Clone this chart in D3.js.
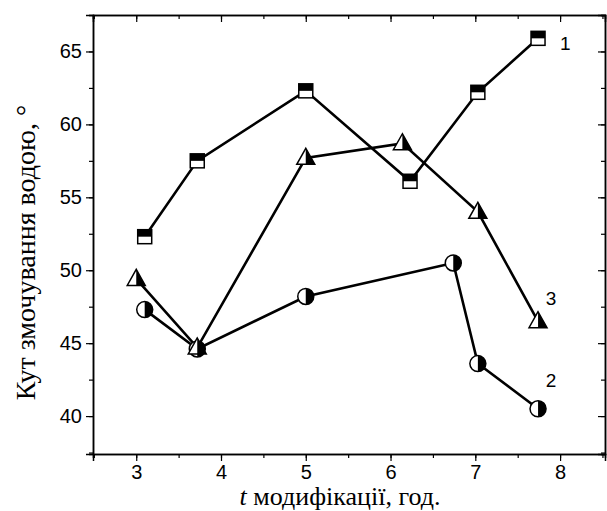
<!DOCTYPE html>
<html>
<head>
<meta charset="utf-8">
<script src="https://cdn.jsdelivr.net/npm/d3@7"></script>
<style>
  body { margin: 0; background: #fff; }
  text { fill: #000; }
</style>
</head>
<body>
<div id="chart"></div>
<script>
// data
var xTicks = [3, 4, 5, 6, 7, 8];
var yTicks = [40, 45, 50, 55, 60, 65];

var s1x = [3.1, 3.72, 5.0, 6.23, 7.03, 7.74];
var s1y = [52.3, 57.5, 62.3, 56.1, 62.2, 65.9];

var s2x = [3.1, 3.72, 5.0, 6.74, 7.03, 7.74];
var s2y = [47.3, 44.6, 48.2, 50.5, 43.6, 40.5];

var s3x = [3.0, 3.72, 5.0, 6.14, 7.03, 7.74];
var s3y = [49.4, 44.7, 57.7, 58.7, 54.0, 46.5];

var seriesNames = ["1", "2", "3"];

var margin = {top: 15, right: 2, bottom: 57, left: 93};
var W = 607, H = 511;
var width = W - margin.left - margin.right;
var height = H - margin.top - margin.bottom;

var svg = d3.select("#chart").append("svg")
    .attr("width", W)
    .attr("height", H)
    .append("g")
    .attr("transform", "translate(" + margin.left + "," + margin.top + ")");

var x = d3.scaleLinear().domain([2.49, 8.53]).range([0, width]);
var y = d3.scaleLinear().domain([37.4, 67.5]).range([height, 0]);

var xMinor = d3.range(2.5, 8.51, 0.5);
var yMinor = d3.range(37.5, 67.51, 2.5);

// axes: outward on bottom/left, inward on top/right
svg.append("g")
    .attr("transform", "translate(0," + height + ")")
    .call(d3.axisBottom(x).tickValues(xMinor).tickSize(4).tickFormat(""));
svg.append("g")
    .attr("transform", "translate(0," + height + ")")
    .call(d3.axisBottom(x).tickValues(xTicks).tickSize(7).tickPadding(4).tickFormat(d3.format("d")));
svg.append("g")
    .call(d3.axisTop(x).tickValues(xMinor).tickSize(-4).tickFormat(""));
svg.append("g")
    .call(d3.axisTop(x).tickValues(xTicks).tickSize(-7).tickFormat(""));

svg.append("g")
    .call(d3.axisLeft(y).tickValues(yMinor).tickSize(4).tickFormat(""));
svg.append("g")
    .call(d3.axisLeft(y).tickValues(yTicks).tickSize(7).tickPadding(4).tickFormat(d3.format("d")));
svg.append("g")
    .attr("transform", "translate(" + width + ",0)")
    .call(d3.axisRight(y).tickValues(yMinor).tickSize(-4).tickFormat(""));
svg.append("g")
    .attr("transform", "translate(" + width + ",0)")
    .call(d3.axisRight(y).tickValues(yTicks).tickSize(-7).tickFormat(""));

svg.selectAll(".domain").attr("stroke", "#000").attr("stroke-width", 1.5);
svg.selectAll(".tick line").attr("stroke", "#000").attr("stroke-width", 1.2);
svg.selectAll(".tick text")
    .style("font-family", "'Liberation Sans', Arial, sans-serif")
    .style("font-size", "20px");

// lines
var line = d3.line()
    .x(function (d) { return x(d[0]); })
    .y(function (d) { return y(d[1]); });

function pts(xs, ys) {
    return xs.map(function (v, i) { return [v, ys[i]]; });
}

var data1 = pts(s1x, s1y);
var data2 = pts(s2x, s2y);
var data3 = pts(s3x, s3y);

[data1, data2, data3].forEach(function (d) {
    svg.append("path")
        .datum(d)
        .attr("fill", "none")
        .attr("stroke", "#000")
        .attr("stroke-width", 2.6)
        .attr("d", line);
});

// markers: circles (left white, right black)
var r = 8;
var circ = svg.selectAll("g.circ").data(data2).enter().append("g")
    .attr("class", "circ")
    .attr("transform", function (d) { return "translate(" + x(d[0]) + "," + y(d[1]) + ")"; });
circ.append("circle").attr("r", r).attr("fill", "#fff");
circ.append("path")
    .attr("d", "M0," + (-r) + " A" + r + "," + r + " 0 0 1 0," + r + " Z")
    .attr("fill", "#000");
circ.append("circle").attr("r", r).attr("fill", "none").attr("stroke", "#000").attr("stroke-width", 1.5);

// triangles (left white, right black)
var th = 16, tw = 18;
var tri = svg.selectAll("g.tri").data(data3).enter().append("g")
    .attr("class", "tri")
    .attr("transform", function (d) { return "translate(" + x(d[0]) + "," + y(d[1]) + ")"; });
tri.append("path")
    .attr("d", "M0," + (-th * 0.6) + " L" + (-tw / 2) + "," + (th * 0.4) + " L" + (tw / 2) + "," + (th * 0.4) + " Z")
    .attr("fill", "#fff");
tri.append("path")
    .attr("d", "M0," + (-th * 0.6) + " L0," + (th * 0.4) + " L" + (tw / 2) + "," + (th * 0.4) + " Z")
    .attr("fill", "#000");
tri.append("path")
    .attr("d", "M0," + (-th * 0.6) + " L" + (-tw / 2) + "," + (th * 0.4) + " L" + (tw / 2) + "," + (th * 0.4) + " Z")
    .attr("fill", "none").attr("stroke", "#000").attr("stroke-width", 1.5).attr("stroke-linejoin", "miter");

// squares (top black, bottom white)
var s = 14;
var sq = svg.selectAll("g.sq").data(data1).enter().append("g")
    .attr("class", "sq")
    .attr("transform", function (d) { return "translate(" + x(d[0]) + "," + y(d[1]) + ")"; });
sq.append("rect").attr("x", -s / 2).attr("y", -s / 2).attr("width", s).attr("height", s).attr("fill", "#fff");
sq.append("rect").attr("x", -s / 2).attr("y", -s / 2).attr("width", s).attr("height", s / 2).attr("fill", "#000");
sq.append("rect").attr("x", -s / 2).attr("y", -s / 2).attr("width", s).attr("height", s)
    .attr("fill", "none").attr("stroke", "#000").attr("stroke-width", 1.5);

// series labels
var labelPos = [[8.0, 65.1], [7.83, 42.0], [7.83, 47.6]];
svg.selectAll("text.lab").data(seriesNames).enter().append("text")
    .attr("class", "lab")
    .attr("x", function (d, i) { return x(labelPos[i][0]); })
    .attr("y", function (d, i) { return y(labelPos[i][1]); })
    .style("font-family", "'Liberation Sans', Arial, sans-serif")
    .style("font-size", "19px")
    .text(function (d) { return d; });

// axis titles
var xt = svg.append("text")
    .attr("x", 247)
    .attr("y", height + 51)
    .attr("text-anchor", "middle")
    .style("font-family", "'Liberation Serif', 'Times New Roman', serif")
    .style("font-size", "26px");
xt.append("tspan").style("font-style", "italic").text("t");
xt.append("tspan").text(" модифікації, год.");

svg.append("text")
    .attr("transform", "translate(" + (-58) + "," + (height / 2 + 18) + ") rotate(-90)")
    .attr("text-anchor", "middle")
    .style("font-family", "'Liberation Serif', 'Times New Roman', serif")
    .style("font-size", "28px")
    .text("Кут змочування водою, °");
</script>
</body>
</html>
